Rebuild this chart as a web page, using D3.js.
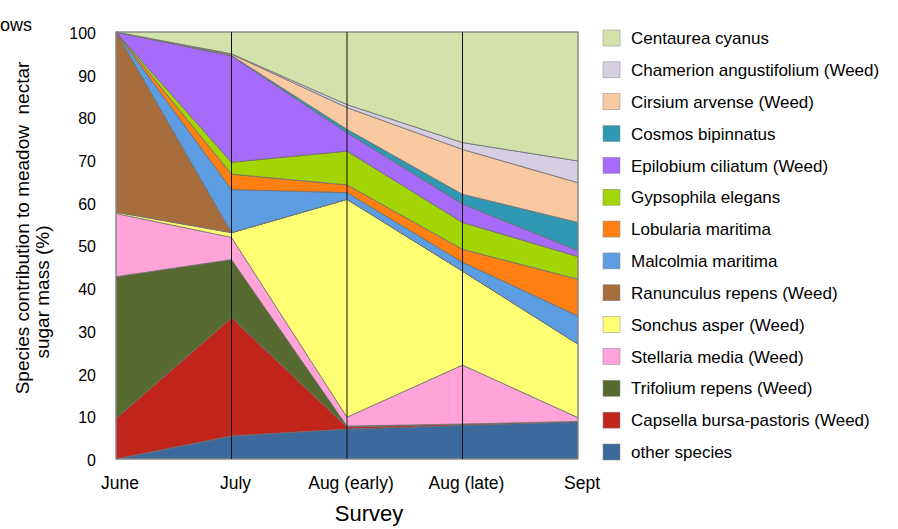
<!DOCTYPE html>
<html>
<head>
<meta charset="utf-8">
<script src="https://cdn.jsdelivr.net/npm/d3@7"></script>
<style>
  body { margin: 0; background: #fff; }
  text { font-family: "Liberation Sans", Arial, sans-serif; }
</style>
</head>
<body>
<svg width="898" height="529"></svg>
<script>
// survey points
var surveys = ["June", "July", "Aug (early)", "Aug (late)", "Sept"];

// series, stacked bottom -> top (% of nectar sugar mass)
var otherSpecies = [0, 5.4, 7.0, 7.9, 8.7];
var capsella     = [9.5, 27.7, 0.5, 0.3, 0.1];
var trifolium    = [33.2, 13.6, 0.2, 0, 0];
var stellaria    = [14.8, 5.2, 2.1, 13.8, 0.9];
var sonchus      = [0.3, 1.1, 51.0, 22.0, 17.2];
var ranunculus   = [42.2, 0, 0, 0, 0];
var malcolmia    = [0, 10.1, 1.6, 2.1, 6.6];
var lobularia    = [0, 3.6, 1.8, 3.0, 8.6];
var gypsophila   = [0, 2.8, 7.9, 6.3, 5.3];
var epilobium    = [0, 24.9, 4.3, 4.3, 1.4];
var cosmos       = [0, 0.1, 0.8, 2.3, 6.6];
var cirsium      = [0, 0.3, 5.1, 10.5, 9.3];
var chamerion    = [0, 0.1, 0.7, 1.6, 5.1];
var centaurea    = [0, 5.1, 17.0, 25.9, 30.2];

var seriesNames = ["other species", "Capsella bursa-pastoris (Weed)", "Trifolium repens (Weed)",
  "Stellaria media (Weed)", "Sonchus asper (Weed)", "Ranunculus repens (Weed)", "Malcolmia maritima",
  "Lobularia maritima", "Gypsophila elegans", "Epilobium ciliatum (Weed)", "Cosmos bipinnatus",
  "Cirsium arvense (Weed)", "Chamerion angustifolium (Weed)", "Centaurea cyanus"];
var seriesValues = [otherSpecies, capsella, trifolium, stellaria, sonchus, ranunculus, malcolmia,
  lobularia, gypsophila, epilobium, cosmos, cirsium, chamerion, centaurea];
var seriesColors = ["#3d6a9c", "#c0261b", "#566a2f", "#ffa3d8", "#ffff73", "#a86d3d", "#5c9ce0",
  "#ff7f12", "#a3d404", "#a66bf9", "#2f98b3", "#f9c9a1", "#d6cee3", "#d3e2aa"];

var yTicks = [0, 10, 20, 30, 40, 50, 60, 70, 80, 90, 100];

var svg = d3.select("svg");

var x = d3.scalePoint().domain(surveys).range([116, 578]),
    y = d3.scaleLinear().domain([0, 100]).range([459, 32]);

// table for d3.stack
var table = surveys.map(function(s, i) {
  var row = {survey: s};
  seriesNames.forEach(function(n, j) { row[n] = seriesValues[j][i]; });
  return row;
});

var stacked = d3.stack().keys(seriesNames)(table);

var area = d3.area()
    .x(function(d) { return x(d.data.survey); })
    .y0(function(d) { return y(d[0]); })
    .y1(function(d) { return y(d[1]); });

var plot = svg.append("g");

plot.selectAll(".layer").data(stacked)
  .enter().append("path")
    .attr("class", "layer")
    .attr("d", area)
    .attr("fill", function(d, i) { return seriesColors[i]; })
    .attr("stroke", "#6e6e6e")
    .attr("stroke-width", 0.8)
    .attr("stroke-linejoin", "round");

// frame
plot.append("rect")
    .attr("x", x("June")).attr("y", y(100))
    .attr("width", x("Sept") - x("June")).attr("height", y(0) - y(100))
    .attr("fill", "none")
    .attr("stroke", "#8a8a8a")
    .attr("stroke-width", 1);

// vertical survey lines
plot.selectAll(".vline").data(surveys.slice(1, 4))
  .enter().append("line")
    .attr("class", "vline")
    .attr("x1", function(d) { return x(d); })
    .attr("x2", function(d) { return x(d); })
    .attr("y1", y(100)).attr("y2", y(0))
    .attr("stroke", "#111")
    .attr("stroke-width", 1);

// Y axis
var yAxis = svg.append("g")
    .attr("transform", "translate(" + x("June") + ",0)")
    .call(d3.axisLeft(y).tickValues(yTicks).tickSize(0).tickPadding(20));
yAxis.select(".domain").remove();
yAxis.selectAll("text")
    .attr("dy", "0.4em")
    .style("font-size", "16px")
    .attr("fill", "#000");

// X axis
var xAxis = svg.append("g")
    .attr("transform", "translate(0," + y(0) + ")")
    .call(d3.axisBottom(x).tickSize(0).tickPadding(18));
xAxis.select(".domain").remove();
xAxis.selectAll("text")
    .attr("dx", "0.2em")
    .style("font-size", "17.5px")
    .attr("fill", "#000");

// axis titles
svg.append("text")
    .attr("x", 369).attr("y", 521)
    .attr("text-anchor", "middle")
    .style("font-size", "22px")
    .text("Survey");

svg.append("text")
    .attr("transform", "translate(29,228) rotate(-90)")
    .attr("text-anchor", "middle")
    .style("font-size", "19px")
    .style("white-space", "pre")
    .text("Species contribution to meadow  nectar");

svg.append("text")
    .attr("transform", "translate(49,292) rotate(-90)")
    .attr("text-anchor", "middle")
    .style("font-size", "19px")
    .text("sugar mass (%)");

// clipped title fragment at top-left
svg.append("text")
    .attr("x", 0).attr("y", 31)
    .style("font-size", "18px")
    .text("ows");

// Legend (top -> bottom is reverse of stack)
var legendOrder = d3.range(seriesNames.length).reverse();
var ly = d3.scalePoint().domain(legendOrder).range([38, 452]);

var legend = svg.append("g").selectAll(".leg").data(legendOrder)
  .enter().append("g")
    .attr("class", "leg")
    .attr("transform", function(d) { return "translate(603," + ly(d) + ")"; });

legend.append("rect")
    .attr("x", 0).attr("y", -8)
    .attr("width", 17).attr("height", 16)
    .attr("fill", function(d) { return seriesColors[d]; })
    .attr("stroke", "#888")
    .attr("stroke-width", 0.5);

legend.append("text")
    .attr("x", 28).attr("dy", "0.36em")
    .style("font-size", "17px")
    .text(function(d) { return seriesNames[d]; });
</script>
</body>
</html>
